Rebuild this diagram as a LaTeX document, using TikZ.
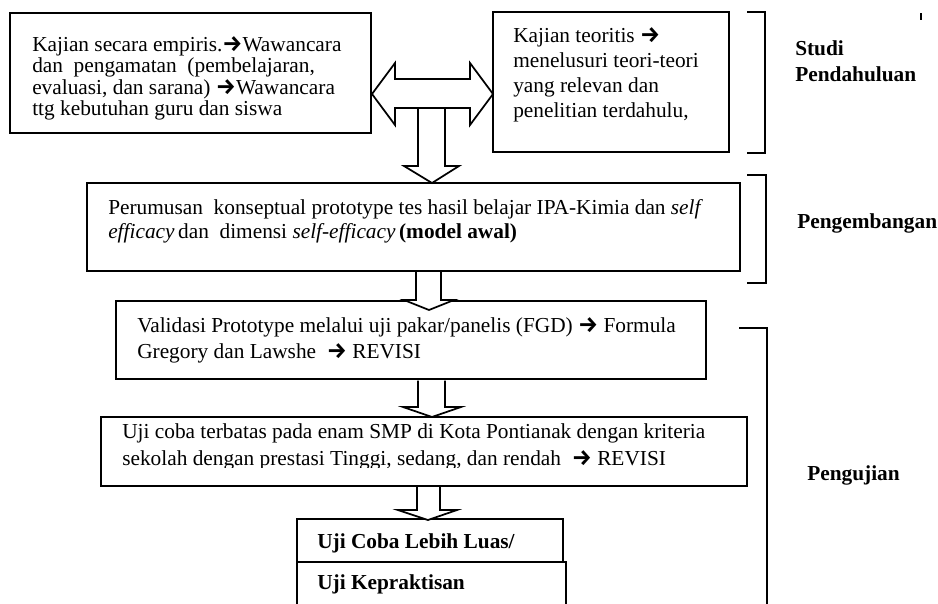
\documentclass[tikz,border=0pt]{standalone}
\usepackage{fontspec}
\setmainfont{Liberation Serif}
\newfontfamily\arrfont{Fira Sans}[Scale=1.05]
\newcommand\rarrw{{\arrfont\bfseries →}}
\usetikzlibrary{fit}
\begin{document}
\begin{tikzpicture}[x=0.75pt,y=-0.75pt,
  boxst/.style={draw, line width=1.3pt, inner sep=0pt},
  txt/.style={inner sep=0pt, anchor=base west, font=\fontsize{16}{19}\selectfont},
  blk/.style={draw, line width=1.3pt, fill=white, line join=miter},
  brk/.style={draw, line width=1.3pt}]
\useasboundingbox (0,0) rectangle (938,603);
\fill[white] (0,0) rectangle (938,603);

% boxes
\node[boxst, fit={(10,13) (371,133)}] (kemp) {};
\node[boxst, fit={(493,12) (729,152)}] (kteo) {};
\node[boxst, fit={(87,183) (740,271)}] (rumus) {};
\node[boxst, fit={(116,301) (706,379)}] (valid) {};
\node[boxst, fit={(101,417) (747,486)}] (ujiterb) {};
\node[boxst, fit={(297,519) (563,562)}] (ujiluas) {};
\node[boxst, fit={(297,562) (566,640)}] (ujiprak) {};

% texts
\node[txt] (kempt) at (32,51) {\parbox[t]{600pt}{\raggedright\baselineskip=16.2pt
Kajian secara empiris.\rarrw Wawancara\\
dan\ \ pengamatan\ \ (pembelajaran,\\
evaluasi, dan sarana) \rarrw Wawancara\\
ttg kebutuhan guru dan siswa}};
\node[txt] (kteot) at (513,42) {\parbox[t]{300pt}{\raggedright\baselineskip=18.75pt
Kajian teoritis \rarrw\\
menelusuri teori-teori\\
yang relevan dan\\
penelitian terdahulu,}};
\node[txt] (rumust) at (108,214) {\parbox[t]{600pt}{\raggedright\baselineskip=18pt
Perumusan\ \ konseptual prototype tes hasil belajar IPA-Kimia dan \textit{self}\\
\textit{efficacy}\,dan\ \ dimensi \textit{self-efficacy}\,\textbf{(model awal)}}};
\node[txt] (validt) at (137,332) {\parbox[t]{600pt}{\raggedright\baselineskip=19.5pt
Validasi Prototype melalui uji pakar/panelis (FGD) \rarrw\ Formula\\
Gregory dan Lawshe\ \ \rarrw\ REVISI}};
\begin{scope}
\clip (101,417) rectangle (747,467);
\node[txt] (ujiterbt) at (122,438) {\parbox[t]{600pt}{\raggedright\baselineskip=20.25pt
Uji coba terbatas pada enam SMP di Kota Pontianak dengan kriteria\\
sekolah dengan prestasi Tinggi, sedang, dan rendah\ \ \rarrw\ REVISI}};
\end{scope}
\node[txt] (ujiluast) at (317,548) {\textbf{Uji Coba Lebih Luas/}};
\node[txt] (ujiprakt) at (317,589) {\textbf{Uji Kepraktisan}};

% stage labels
\node[txt] (studi) at (795,55) {\parbox[t]{200pt}{\raggedright\baselineskip=20.25pt
\textbf{Studi}\\ \textbf{Pendahuluan}}};
\node[txt] (kembang) at (797,228) {\textbf{Pengembangan}};
\node[txt] (uji) at (807,480) {\textbf{Pengujian}};

% brackets
\draw[brk] (747,12) -- (765,12) -- (765,153) -- (747,153);
\draw[brk] (747,175) -- (766,175) -- (766,283) -- (747,283);
\draw[brk] (739,328) -- (767,328) -- (767,640);
\draw[line width=1.5pt] (921,13) -- (921,20);

% block arrows
\draw[blk] (418,108) -- (418,166) -- (404,166) -- (432,183) -- (459,166) -- (445,166) -- (445,108);
\draw[blk] (372,94) -- (395,63) -- (395,79) -- (470,79) -- (470,63) -- (493,94)
  -- (470,125) -- (470,108) -- (395,108) -- (395,125) -- cycle;
\draw[blk] (416,272) -- (416,300) -- (404,300) -- (429,310) -- (454,300) -- (441,300) -- (441,272);
\draw[blk] (418,380.5) -- (418,407) -- (403,407) -- (432,417) -- (461,407) -- (445,407) -- (445,380.5);
\draw[blk] (417,487) -- (417,510) -- (398,510) -- (428,520) -- (457,510) -- (440,510) -- (440,487);
\end{tikzpicture}
\end{document}
